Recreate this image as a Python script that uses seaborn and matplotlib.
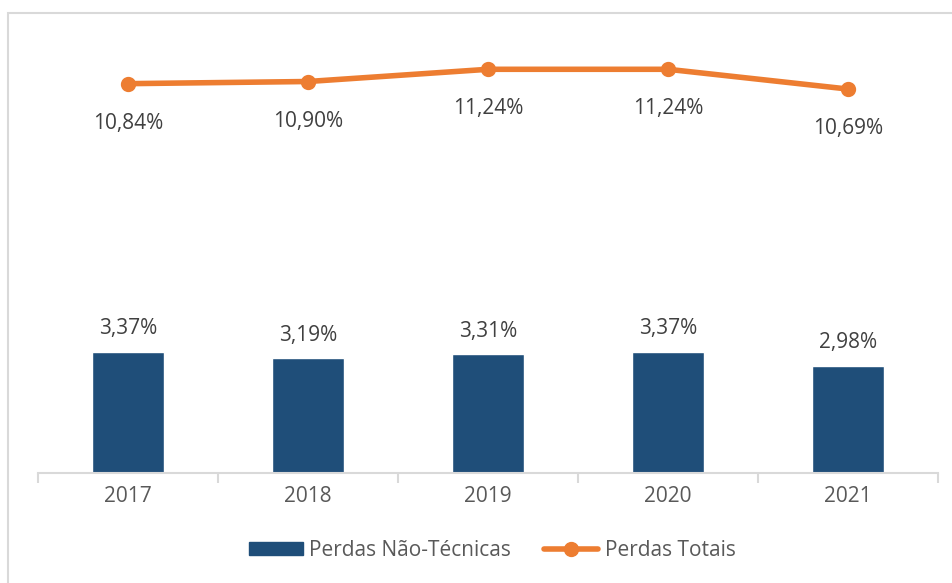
import numpy as np
import pandas as pd
import matplotlib.pyplot as plt
import matplotlib.patches as mpatches
from matplotlib.lines import Line2D
import seaborn as sns

sns.set_theme(style="white")
plt.rcParams['font.family'] = ['Open Sans', 'DejaVu Sans']

# data
years = ["2017", "2018", "2019", "2020", "2021"]
nao_tecnicas = [3.37, 3.19, 3.31, 3.37, 2.98]
totais = [10.84, 10.90, 11.24, 11.24, 10.69]

blue = "#1F4E79"
orange = "#ED7D31"
text_col = "#404040"

df = pd.DataFrame({"ano": years, "nt": nao_tecnicas, "tot": totais})

fig = plt.figure(figsize=(9.52, 5.83), dpi=100)
ax = fig.add_axes([38 / 952, 110 / 583, 900 / 952, 431 / 583])

sns.barplot(data=df, x="ano", y="nt", color=blue, width=0.4, saturation=1, ax=ax)
sns.pointplot(data=df, x="ano", y="tot", color=orange, markers="o",
              linewidth=4, markersize=8, ax=ax)

ax.set_ylim(0, 12.0)
ax.set_xlim(-0.5, 4.5)
ax.set_xlabel("")
ax.set_ylabel("")
ax.set_yticks([])

for s in ["top", "right", "left"]:
    ax.spines[s].set_visible(False)
ax.spines["bottom"].set_color("#D9D9D9")
ax.spines["bottom"].set_linewidth(1.5)

ax.tick_params(axis="x", which="major", length=0, pad=9, labelsize=15, labelcolor="#595959")
ax.set_xticks(np.arange(-0.5, 5, 1), minor=True)
ax.tick_params(axis="x", which="minor", bottom=True, length=7, width=1.5,
               color="#D9D9D9", direction="out")

def fmt(v):
    return f"{v:.2f}%".replace(".", ",")

for i, v in enumerate(nao_tecnicas):
    ax.annotate(fmt(v), (i, v), xytext=(0, 9), textcoords="offset points",
                ha="center", va="bottom", fontsize=15, color=text_col)
for i, v in enumerate(totais):
    ax.annotate(fmt(v), (i, v), xytext=(0, -21), textcoords="offset points",
                ha="center", va="top", fontsize=15, color=text_col)

handles = [
    mpatches.Patch(color=blue, label="Perdas Não-Técnicas"),
    Line2D([0], [0], color=orange, lw=4, marker="o", markersize=10, label="Perdas Totais"),
]
fig.legend(handles=handles, loc="center", bbox_to_anchor=(492 / 952, 1 - 550 / 583),
           ncol=2, frameon=False, fontsize=15, labelcolor="#595959",
           handlelength=2.6, handleheight=0.6, handletextpad=0.3, columnspacing=1.6)

# chart border
fig.patches.append(mpatches.Rectangle((8 / 952, -0.1), 1.1, 1 - 13 / 583 + 0.1,
                                      transform=fig.transFigure, fill=False,
                                      edgecolor="#D9D9D9", lw=1.5))

fig.savefig("out.png", dpi=100)
